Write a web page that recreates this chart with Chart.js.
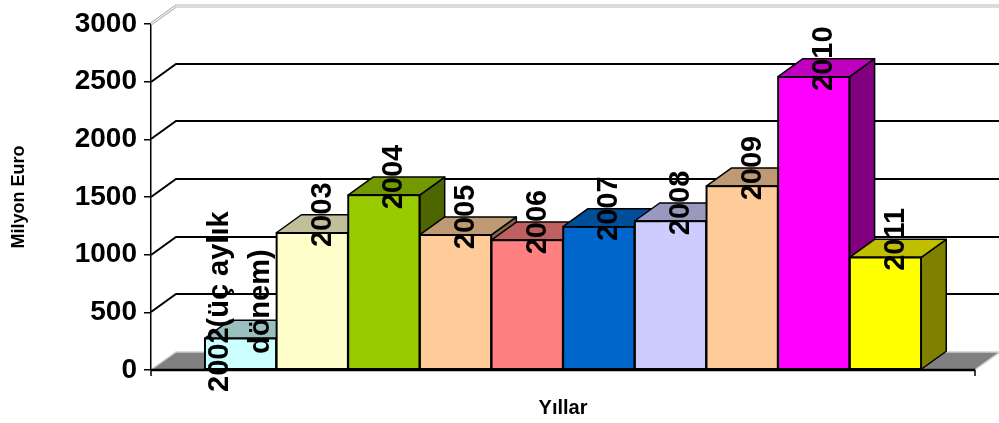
<!DOCTYPE html>
<html>
<head>
<meta charset="utf-8">
<script src="https://cdn.jsdelivr.net/npm/chart.js@4"></script>
<style>
html,body{margin:0;padding:0;background:#fff;}
#wrap{width:999px;height:423px;}
</style>
</head>
<body>
<div id="wrap"><canvas id="c" width="999" height="423"></canvas></div>
<script>
// ---- data ----
const categories = [['2002(üç aylık', 'dönem)'], ['2003'], ['2004'], ['2005'], ['2006'], ['2007'], ['2008'], ['2009'], ['2010'], ['2011']];
const values = [275, 1190, 1517, 1171, 1127, 1243, 1292, 1595, 2543, 977];
const colors = ['#CCFFFF', '#FFFFCC', '#99CC00', '#FFCC99', '#FF8080', '#0066CC', '#CCCCFF', '#FFCC99', '#FF00FF', '#FFFF00'];
const yTicks = [0, 500, 1000, 1500, 2000, 2500, 3000];
const yTickLabels = ['0', '500', '1000', '1500', '2000', '2500', '3000'];
const yTitle = 'Milyon Euro';
const xTitle = 'Yıllar';

// ---- style ----
const DX = 25, DY = 18;
const FONT = '"Liberation Sans", Arial, sans-serif';

function shade(hex, f) {
  const n = parseInt(hex.slice(1), 16);
  const r = Math.round(((n >> 16) & 255) * f);
  const g = Math.round(((n >> 8) & 255) * f);
  const b = Math.round((n & 255) * f);
  return 'rgb(' + r + ',' + g + ',' + b + ')';
}

function poly(ctx, pts, fill) {
  ctx.beginPath();
  ctx.moveTo(pts[0][0], pts[0][1]);
  for (let i = 1; i < pts.length; i++) ctx.lineTo(pts[i][0], pts[i][1]);
  ctx.closePath();
  ctx.fillStyle = fill;
  ctx.fill();
  ctx.strokeStyle = '#000';
  ctx.lineWidth = 1.5;
  ctx.lineJoin = 'round';
  ctx.stroke();
}

function line(ctx, x1, y1, x2, y2) {
  ctx.beginPath(); ctx.moveTo(x1, y1); ctx.lineTo(x2, y2); ctx.stroke();
}

const bar3d = {
  id: 'bar3d',
  beforeDatasetsDraw(chart) {
    const {ctx, chartArea: a, scales: {y}} = chart;
    const L = a.left, R = a.right, B = a.bottom;
    ctx.save();
    // floor
    ctx.beginPath();
    ctx.moveTo(L, B); ctx.lineTo(R, B); ctx.lineTo(R + DX, B - DY); ctx.lineTo(L + DX, B - DY); ctx.closePath();
    ctx.fillStyle = '#808080'; ctx.fill();
    ctx.strokeStyle = '#cfcfcf'; ctx.lineWidth = 1.5;
    ctx.beginPath(); ctx.moveTo(L + 1, B - 1); ctx.lineTo(L + DX, B - DY); ctx.lineTo(R + DX, B - DY); ctx.lineTo(R + 1, B - 1); ctx.stroke();
    // wall gridlines
    const maxV = yTicks[yTicks.length - 1];
    yTicks.forEach(v => {
      if (v === 0) return;
      const py = Math.round(y.getPixelForValue(v));
      if (v === maxV) {
        ctx.strokeStyle = '#b8b8b8'; ctx.lineWidth = 3;
        ctx.beginPath(); ctx.moveTo(L, py); ctx.lineTo(L + DX, py - DY); ctx.lineTo(R + DX + 5, py - DY); ctx.stroke();
        ctx.strokeStyle = '#fff'; ctx.lineWidth = 1;
        ctx.beginPath(); ctx.moveTo(L, py); ctx.lineTo(L + DX, py - DY); ctx.lineTo(R + DX + 5, py - DY); ctx.stroke();
      } else {
        ctx.strokeStyle = '#000'; ctx.lineWidth = 2;
        ctx.beginPath(); ctx.moveTo(L, py); ctx.lineTo(L + DX, py - DY); ctx.lineTo(R + DX + 5, py - DY); ctx.stroke();
      }
    });
    // front floor edge
    ctx.strokeStyle = '#000'; ctx.lineWidth = 2.5;
    line(ctx, L, B, R, B);
    ctx.lineWidth = 1.5;
    line(ctx, R, B, R, B + 6);
    line(ctx, L, B, L, B + 6);
    ctx.restore();
  },
  beforeDatasetDraw() { return false; },
  afterDatasetsDraw(chart) {
    const {ctx} = chart;
    const meta = chart.getDatasetMeta(0);
    ctx.save();
    meta.data.forEach((el, i) => {
      const p = el.getProps(['x', 'y', 'base', 'width'], true);
      const l = p.x - p.width / 2, r = p.x + p.width / 2, t = p.y, b = p.base;
      const c = colors[i];
      poly(ctx, [[r, t], [r + DX, t - DY], [r + DX, b - DY], [r, b]], shade(c, 0.5));
      poly(ctx, [[l, t], [l + DX, t - DY], [r + DX, t - DY], [r, t]], shade(c, 0.75));
      el.draw(ctx, chart.chartArea);
      ctx.strokeStyle = '#000'; ctx.lineWidth = 1.5;
      ctx.strokeRect(l, t, r - l, b - t);
    });
    ctx.restore();
  },
  afterDraw(chart) {
    const {ctx, chartArea: a} = chart;
    const meta = chart.getDatasetMeta(0);
    const size = 29, lh = 41;
    ctx.save();
    ctx.font = 'bold ' + size + 'px ' + FONT;
    ctx.fillStyle = '#000';
    ctx.textAlign = 'center';
    ctx.textBaseline = 'middle';
    const limit = a.bottom + 22;
    meta.data.forEach((el, i) => {
      const p = el.getProps(['x', 'y'], true);
      const lines = categories[i];
      const n = lines.length;
      let half = 0;
      lines.forEach(s => { half = Math.max(half, ctx.measureText(s).width / 2); });
      let cy = p.y - DY;
      if (cy + half > limit) cy = limit - half;
      const cx = p.x + DX / 2 - 2 - (n - 1) * lh / 4;
      ctx.save();
      ctx.translate(cx, cy);
      ctx.rotate(-Math.PI / 2);
      lines.forEach((s, k) => {
        ctx.fillText(s, 0, (k - (n - 1) / 2) * lh);
      });
      ctx.restore();
    });
    ctx.restore();
  }
};

new Chart(document.getElementById('c'), {
  type: 'bar',
  data: {
    datasets: [{
      data: values.map((v, i) => ({x: i, y: v})),
      backgroundColor: colors,
      borderColor: '#000',
      borderWidth: 1.5,
      borderSkipped: false,
      barPercentage: 1,
      categoryPercentage: 1
    }]
  },
  options: {
    responsive: false,
    animation: false,
    devicePixelRatio: 1,
    layout: {padding: {top: 24, right: 24, bottom: 0, left: 0}},
    plugins: {legend: {display: false}, tooltip: {enabled: false}},
    scales: {
      x: {
        type: 'linear',
        min: -1.25,
        max: values.length - 1 + 1.25,
        offset: false,
        grid: {display: false},
        border: {display: false},
        ticks: {display: false},
        title: {display: true, text: xTitle, color: '#000', font: {family: FONT, size: 20, weight: 'bold'}, padding: {top: 0, bottom: 3}},
        afterFit(s) { s.height = 53; }
      },
      y: {
        min: 0,
        max: 3000,
        afterBuildTicks(s) { s.ticks = yTicks.map(v => ({value: v})); },
        ticks: {
          color: '#000', padding: 7,
          font: {family: FONT, size: 28, weight: 'bold'},
          callback: (v) => yTickLabels[yTicks.indexOf(v)]
        },
        grid: {drawOnChartArea: false, drawTicks: true, tickLength: 7, color: '#000', lineWidth: 1.5},
        border: {display: true, color: '#000', width: 1.5},
        title: {display: true, text: yTitle, color: '#000', font: {family: FONT, size: 18, weight: 'bold'}, padding: {top: 8, bottom: 0}},
        afterFit(s) { s.width = 151; }
      }
    }
  },
  plugins: [bar3d]
});
</script>
</body>
</html>
